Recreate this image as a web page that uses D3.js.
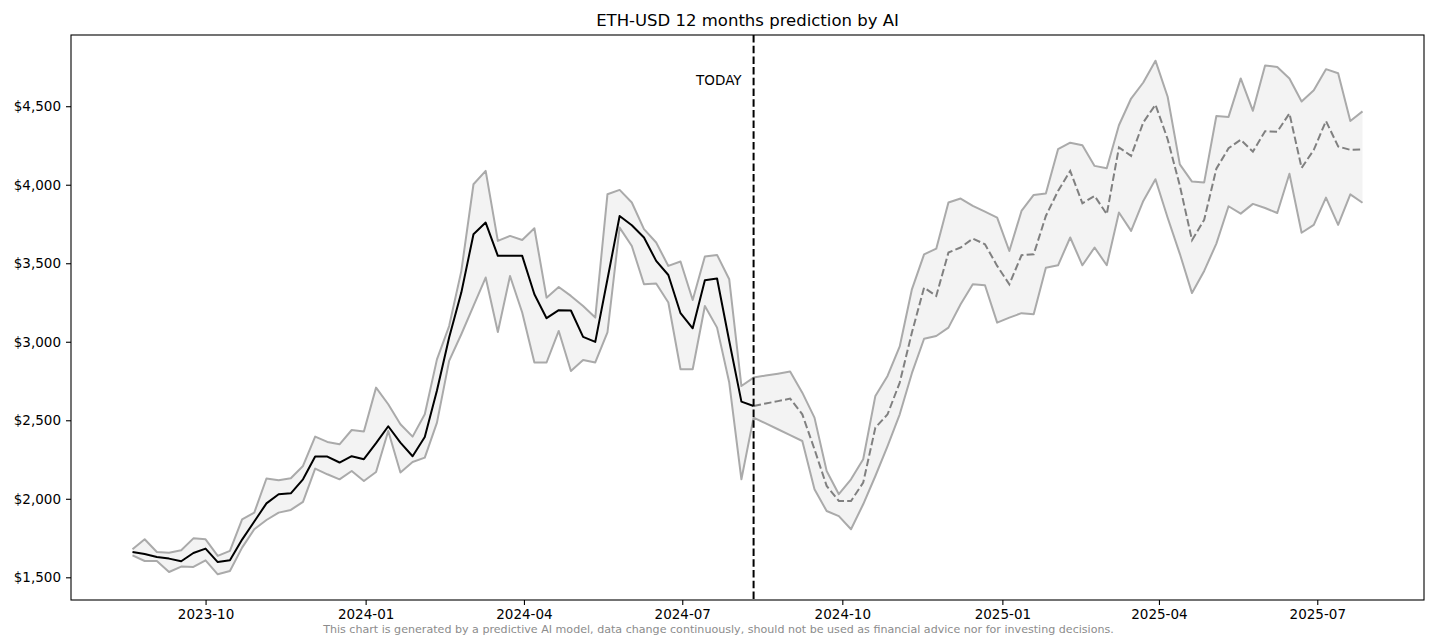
<!DOCTYPE html>
<html>
<head>
<meta charset="utf-8">
<script src="https://cdn.jsdelivr.net/npm/d3@7"></script>
<style>
    body { margin: 0; background: #fff; }
    #chart { width: 1437px; height: 635px; }
    text { font-family: "DejaVu Sans", sans-serif; }
</style>
</head>
<body>
<div id="chart"></div>
<script>

// ---- data (weekly) ----
const startDate = "2023-08-20";
const todayDate = "2024-08-11";

const histMean = [1661,1648,1629,1619,1602,1655,1683,1597,1608,1740,1855,1971,2029,2035,2124,2269,2269,2231,2271,2252,
    2354,2462,2358,2271,2394,2690,3027,3313,3685,3759,3547,3547,3547,3303,3150,3201,3199,3031,2999,3398,
    3801,3742,3664,3515,3425,3182,3086,3392,3403,3005,2619,2591];
const histUpper = [1678,1742,1661,1657,1672,1748,1742,1636,1668,1869,1912,2129,2118,2131,2209,2396,2362,2347,2438,2428,
    2708,2602,2475,2396,2538,2888,3100,3450,4003,4088,3642,3674,3648,3723,3281,3349,3292,3228,3154,3939,
    3967,3887,3717,3632,3483,3511,3266,3543,3553,3398,2718,2772];
const histLower = [1640,1604,1604,1534,1568,1566,1608,1519,1540,1689,1806,1865,1912,1929,1980,2192,2156,2124,2177,2113,
    2171,2432,2167,2234,2262,2485,2878,3048,3228,3409,3062,3419,3186,2868,2868,3069,2814,2884,2868,3059,
    3727,3610,3366,3371,3250,2825,2825,3228,3090,2740,2124,2517];

// forecast starts on today's point
const fcMean = [2591,2607,2622,2638,2538,2315,2082,1986,1986,2103,2453,2538,2740,3059,3345,3292,3568,3600,3657,3621,
    3483,3366,3551,3557,3801,3960,4088,3882,3929,3812,4237,4184,4397,4510,4290,3994,3647,3777,4102,4232,
    4287,4211,4341,4337,4454,4107,4222,4406,4244,4222,4225];
const fcUpper = [2772,2785,2797,2810,2676,2517,2177,2029,2124,2252,2655,2782,2970,3334,3557,3593,3887,3912,3865,3829,
    3791,3578,3833,3935,3944,4226,4268,4251,4120,4105,4379,4549,4651,4790,4560,4130,4020,4015,4438,4432,
    4677,4471,4760,4750,4677,4530,4602,4736,4710,4406,4467];
const fcLower = [2517,2480,2443,2405,2368,2061,1922,1890,1806,1965,2145,2336,2538,2800,3019,3037,3090,3239,3366,3360,
    3122,3154,3182,3175,3472,3487,3664,3487,3600,3487,3823,3706,3897,4035,3790,3560,3310,3451,3625,3863,
    3816,3878,3852,3820,4070,3694,3744,3918,3744,3939,3885];

const xTickLabels = ["2023-10","2024-01","2024-04","2024-07","2024-10","2025-01","2025-04","2025-07"];
const yTickValues = [1500,2000,2500,3000,3500,4000,4500];

const titleText = "ETH-USD 12 months prediction by AI";
const footerText = "This chart is generated by a predictive AI model, data change continuously, should not be used as financial advice nor for investing decisions.";


class PredictionVis {

    constructor(parentElement){
        this.parentElement = parentElement;
        this.parseDay = d3.utcParse("%Y-%m-%d");
        this.parseMonth = d3.utcParse("%Y-%m");

        this.initVis();
    }

    initVis(){
        let vis = this;

        vis.margin = {top: 35, right: 13, bottom: 35, left: 71};
        vis.totalWidth = 1437;
        vis.totalHeight = 635;
        vis.width = vis.totalWidth - vis.margin.left - vis.margin.right;
        vis.height = vis.totalHeight - vis.margin.top - vis.margin.bottom;

        vis.root = d3.select("#" + vis.parentElement).append("svg")
            .attr("width", vis.totalWidth)
            .attr("height", vis.totalHeight);

        vis.svg = vis.root.append("g")
            .attr("transform", `translate(${vis.margin.left}, ${vis.margin.top})`);

        // title + footer
        vis.root.append("text")
            .attr("x", vis.margin.left + vis.width / 2)
            .attr("y", 26)
            .attr("text-anchor", "middle")
            .attr("font-size", "16.5px")
            .attr("fill", "#000")
            .text(titleText);

        vis.root.append("text")
            .attr("x", vis.totalWidth / 2)
            .attr("y", 633)
            .attr("text-anchor", "middle")
            .attr("font-size", "11.1px")
            .attr("fill", "#8c8c8c")
            .text(footerText);

        vis.x = d3.scaleUtc().range([0, vis.width]);
        vis.y = d3.scaleLinear().range([vis.height, 0]);

        vis.wrangleData();
    }

    wrangleData(){
        let vis = this;

        let start = vis.parseDay(startDate);
        vis.today = vis.parseDay(todayDate);

        vis.hist = histMean.map((d, i) => ({
            date: d3.utcDay.offset(start, 7 * i),
            mean: d, upper: histUpper[i], lower: histLower[i]
        }));

        vis.forecast = fcMean.map((d, i) => ({
            date: d3.utcDay.offset(vis.today, 7 * i),
            mean: d, upper: fcUpper[i], lower: fcLower[i]
        }));

        // one band across both parts (skip the shared today point)
        vis.band = vis.hist.concat(vis.forecast.slice(1));

        vis.updateVis();
    }

    updateVis(){
        let vis = this;

        // matplotlib-like 5% margins
        let xExt = d3.extent(vis.band, d => d.date);
        let xPad = (xExt[1] - xExt[0]) * 0.05;
        vis.x.domain([new Date(+xExt[0] - xPad), new Date(+xExt[1] + xPad)]);

        let yMin = d3.min(vis.band, d => d.lower);
        let yMax = d3.max(vis.band, d => d.upper);
        let yPad = (yMax - yMin) * 0.05;
        vis.y.domain([yMin - yPad, yMax + yPad]);

        let area = d3.area()
            .x(d => vis.x(d.date))
            .y0(d => vis.y(d.lower))
            .y1(d => vis.y(d.upper));

        let line = key => d3.line()
            .x(d => vis.x(d.date))
            .y(d => vis.y(d[key]));

        vis.svg.append("path")
            .datum(vis.band)
            .attr("d", area)
            .attr("fill", "#f3f3f3");

        ["upper", "lower"].forEach(key => {
            vis.svg.append("path")
                .datum(vis.band)
                .attr("d", line(key))
                .attr("fill", "none")
                .attr("stroke", "#aaaaaa")
                .attr("stroke-width", 2)
                .attr("stroke-linejoin", "round");
        });

        vis.svg.append("path")
            .datum(vis.hist)
            .attr("d", line("mean"))
            .attr("fill", "none")
            .attr("stroke", "#000")
            .attr("stroke-width", 2)
            .attr("stroke-linejoin", "round");

        vis.svg.append("path")
            .datum(vis.forecast)
            .attr("d", line("mean"))
            .attr("fill", "none")
            .attr("stroke", "#808080")
            .attr("stroke-width", 2)
            .attr("stroke-dasharray", "7.5,3.2");

        // today marker
        let tx = vis.x(vis.today);
        vis.svg.append("line")
            .attr("x1", tx).attr("x2", tx)
            .attr("y1", 0).attr("y2", vis.height)
            .attr("stroke", "#000")
            .attr("stroke-width", 2)
            .attr("stroke-dasharray", "7.5,3.2");

        vis.svg.append("text")
            .attr("x", tx - 12)
            .attr("y", 50)
            .attr("text-anchor", "end")
            .attr("font-size", "13.5px")
            .attr("fill", "#000")
            .text("TODAY");

        // axes
        vis.xAxis = d3.axisBottom(vis.x)
            .tickValues(xTickLabels.map(d => vis.parseMonth(d)))
            .tickFormat(d3.utcFormat("%Y-%m"))
            .tickSize(5)
            .tickPadding(4);

        vis.yAxis = d3.axisLeft(vis.y)
            .tickValues(yTickValues)
            .tickFormat(d3.format("$,"))
            .tickSize(5)
            .tickPadding(5);

        let xg = vis.svg.append("g")
            .attr("transform", `translate(0, ${vis.height})`)
            .call(vis.xAxis);
        let yg = vis.svg.append("g").call(vis.yAxis);

        [xg, yg].forEach(g => {
            g.select(".domain").remove();
            g.selectAll(".tick line").attr("stroke", "#000").attr("stroke-width", 1.1);
            g.selectAll(".tick text")
                .attr("font-size", "13.5px")
                .attr("font-family", "DejaVu Sans, sans-serif")
                .attr("fill", "#000");
        });

        // frame
        vis.svg.append("rect")
            .attr("width", vis.width)
            .attr("height", vis.height)
            .attr("fill", "none")
            .attr("stroke", "#000")
            .attr("stroke-width", 1.1);
    }
}

new PredictionVis("chart");

</script>
</body>
</html>
